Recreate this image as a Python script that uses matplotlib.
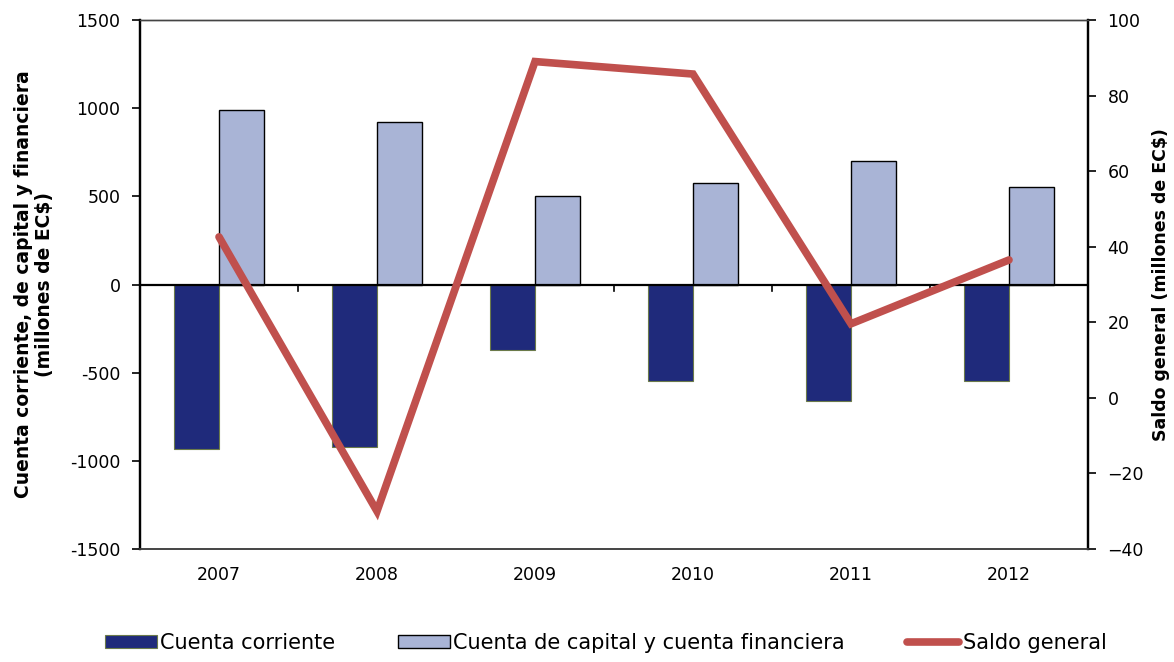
import matplotlib.pyplot as plt
import numpy as np

# data
years = ["2007", "2008", "2009", "2010", "2011", "2012"]
cuenta_corriente = [-932, -920, -369, -545, -659, -545]
cuenta_capital = [989, 920, 500, 574, 699, 551]
saldo_general = [42.6, -30, 89, 85.7, 19.6, 36.5]

left_ticks = [-1500, -1000, -500, 0, 500, 1000, 1500]
right_ticks = [-40, -20, 0, 20, 40, 60, 80, 100]

dark_blue = "#1F2A7B"
light_blue = "#A9B4D6"
red = "#C0504D"

plt.rcParams["font.family"] = "DejaVu Sans"

fig = plt.figure(figsize=(11.74, 6.62), dpi=100)
ax = fig.add_axes([140 / 1174, 1 - 549 / 662, 948 / 1174, 529 / 662])
ax2 = ax.twinx()

x = np.arange(len(years)) + 0.5
w = 1 / 3.5

ax.bar(x - w / 2, cuenta_corriente, width=w, color=dark_blue,
       edgecolor="#6B7A4A", linewidth=0.8, label="Cuenta corriente", zorder=2)
ax.bar(x + w / 2, cuenta_capital, width=w, color=light_blue,
       edgecolor="black", linewidth=1.0,
       label="Cuenta de capital y cuenta financiera", zorder=2)

# category axis drawn at zero, ticks between categories
ax.axhline(0, color="black", linewidth=1.6, zorder=3)
for b in range(1, len(years)):
    ax.plot([b, b], [0, -35], color="black", linewidth=1.2, zorder=3)

ax.set_xlim(0, len(years))
ax.set_ylim(-1500, 1500)
ax.set_yticks(left_ticks)
ax.set_yticklabels([str(t) for t in left_ticks])
ax.set_xticks(x)
ax.set_xticklabels(years)
ax.tick_params(axis="x", length=0, pad=12, labelsize=12.5)
ax.tick_params(axis="y", direction="out", length=6, width=1.2, labelsize=12.5, pad=8)

ax2.plot(x, saldo_general, color=red, linewidth=5.5, solid_capstyle="round",
         solid_joinstyle="miter", label="Saldo general", zorder=4)
ax2.set_ylim(-40, 100)
ax2.set_yticks(right_ticks)
ax2.tick_params(axis="y", direction="out", length=6, width=1.2, labelsize=12.5, pad=8)

for a in (ax, ax2):
    a.spines["top"].set_color("#444444")
    a.spines["top"].set_linewidth(1.0)
    a.spines["bottom"].set_color("#444444")
    a.spines["bottom"].set_linewidth(1.2)
    a.spines["left"].set_linewidth(1.6)
    a.spines["right"].set_linewidth(1.6)

ax.set_ylabel("Cuenta corriente, de capital y financiera\n(millones de EC$)",
              fontsize=13.5, fontweight="bold", labelpad=12, linespacing=1.1)
ax2.set_ylabel("Saldo general (millones de EC$)", fontsize=12.5,
               fontweight="bold", labelpad=6)

h1, l1 = ax.get_legend_handles_labels()
h2, l2 = ax2.get_legend_handles_labels()
fig.legend(h1 + h2, l1 + l2, loc="lower center", bbox_to_anchor=(0.516, -0.014),
           ncol=3, frameon=False, fontsize=15, handlelength=2.5, handleheight=0.6,
           handletextpad=0.15, columnspacing=3.0)

fig.savefig("out.png", dpi=100)
